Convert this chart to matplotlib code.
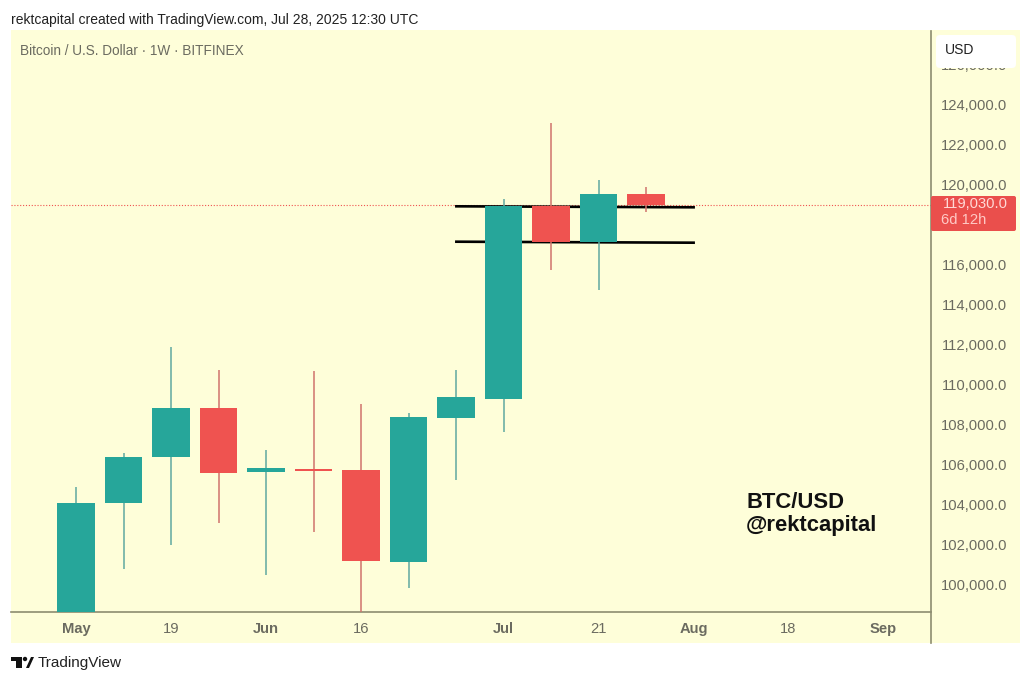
import matplotlib
matplotlib.use("Agg")
import matplotlib.pyplot as plt
from matplotlib.patches import Rectangle, FancyBboxPatch, Polygon, Circle
from matplotlib.transforms import Affine2D

plt.rcParams['font.family'] = ['Liberation Sans', 'DejaVu Sans']

opens  = [96500, 104050, 106350, 108800, 105600, 105750, 105700, 101100, 108300, 109250, 118900, 117100, 119500]
highs  = [104850, 106550, 111850, 110700, 106700, 110650, 109000, 108550, 110700, 119250, 123050, 120200, 119850]
lows   = [95800, 100750, 101950, 103050, 100450, 102600, 98300, 99800, 105200, 107600, 115700, 114700, 118600]
closes = [104050, 106350, 108800, 105550, 105800, 105650, 101150, 108350, 109350, 118900, 117100, 119500, 118950]

y_ticks = [100000, 102000, 104000, 106000, 108000, 110000, 112000, 114000, 116000,
           120000, 122000, 124000, 126000]
x_ticks = [0, 2, 4, 6, 9, 11, 13, 15, 17]
x_labels = ['May', '19', 'Jun', '16', 'Jul', '21', 'Aug', '18', 'Sep']
bold_labels = {'May', 'Jun', 'Jul', 'Aug', 'Sep'}
support_x = [7.98, 13.03]
upper_level = [118885, 118835]
lower_level = [117115, 117065]
price_line = 118950

UP, DOWN = '#26a69a', '#ef5350'
BG = '#fefed9'
AXC = '#8c8c70'
TXT = '#6b6b60'

fig = plt.figure(figsize=(10.24, 6.78), dpi=100, facecolor='white')
px = Affine2D().scale(1, -1).translate(0, 678)

# chart background panel
fig.patches.append(Rectangle((11, 30), 1009, 613, transform=px, facecolor=BG, edgecolor='none', zorder=-5))

ax = fig.add_axes([11/1024, (678-612)/678, 920/1024, 582/678])
ax.set_zorder(1)
ax.patch.set_alpha(0)
ax.set_xlim(-65/47.5, 855/47.5)
ax.set_ylim(98600, 127700)
for s in ['top', 'left']:
    ax.spines[s].set_visible(False)
for s in ['bottom', 'right']:
    ax.spines[s].set_color(AXC)
    ax.spines[s].set_linewidth(1.2)
ax.spines['right'].set_bounds(97050, 127650)

ax.axhline(price_line, color=DOWN, lw=0.8, ls=(0, (1, 1.6)), zorder=1)
ax.plot(support_x, upper_level, color='black', lw=1.9, zorder=2, solid_capstyle='butt')
ax.plot(support_x, lower_level, color='black', lw=1.9, zorder=2, solid_capstyle='butt')

xs = list(range(len(opens)))
cols = [UP if c >= o else DOWN for o, c in zip(opens, closes)]
wick_cols = ['#5fa9a0' if c == UP else '#d0736c' for c in cols]
ax.vlines(xs, lows, highs, colors=wick_cols, lw=1.1, zorder=3)
ax.bar(xs, [c - o for o, c in zip(opens, closes)], bottom=opens, width=0.79,
       color=cols, linewidth=0, zorder=4)

ax.yaxis.tick_right()
ax.set_yticks(y_ticks)
ax.set_yticklabels([f'{v:,.1f}' for v in y_ticks], fontsize=10.6, color=TXT, ha='right')
ax.tick_params(axis='y', length=0, pad=55)
ax.set_xticks(x_ticks)
ax.set_xticklabels(x_labels, fontsize=10.6, color=TXT)
for t in ax.get_xticklabels():
    if t.get_text() in bold_labels:
        t.set_fontweight('bold')
ax.tick_params(axis='x', length=0, pad=7.5)

ax.text(746, 502, 'BTC/USD', transform=px, fontsize=15.8, fontweight='bold', color='#111111', va='center', ha='left')
ax.text(746, 525, '@rektcapital', transform=px, fontsize=15.8, fontweight='bold', color='#111111', va='center', ha='left')
ax.text(20, 51, 'Bitcoin / U.S. Dollar · 1W · BITFINEX', transform=px, fontsize=9.8, color=TXT, va='center', ha='left')
ax.text(11, 20, 'rektcapital created with TradingView.com, Jul 28, 2025 12:30 UTC', transform=px,
        fontsize=10, color='#222222', va='center', ha='left')

# USD box and last-price tag
ax.add_patch(FancyBboxPatch((939, 38), 74, 27, boxstyle='round,pad=3,rounding_size=4', transform=px,
                            facecolor='white', edgecolor='none', clip_on=False, zorder=10))
ax.text(945, 50, 'USD', transform=px, fontsize=10, color='#222222', va='center', ha='left', zorder=11)
ax.add_patch(FancyBboxPatch((933, 198), 81, 31, boxstyle='round,pad=2,rounding_size=2', transform=px,
                            facecolor='#ea4f4c', edgecolor='none', clip_on=False, zorder=10))
ax.text(1008, 204, '119,030.0', transform=px, fontsize=10.6, color='#ffd9d6', va='center', ha='right', zorder=11)
ax.text(941, 220, '6d 12h', transform=px, fontsize=10.6, color='#ffc9c5', va='center', ha='left', zorder=11)

# TradingView logo and wordmark
for pts in ([(11, 657), (22, 657), (22, 668), (16, 668), (16, 661), (11, 661)],
            [(26, 668), (31, 657), (34, 657), (29, 668)]):
    ax.add_patch(Polygon(pts, closed=True, transform=px, facecolor='#111111', edgecolor='none', clip_on=False))
ax.add_patch(Circle((25, 659), 2.2, transform=px, facecolor='#111111', edgecolor='none', clip_on=False))
ax.text(38, 663, 'TradingView', transform=px, fontsize=11, color='#222222', va='center', ha='left')

fig.savefig('out.png', dpi=100, facecolor='white')
